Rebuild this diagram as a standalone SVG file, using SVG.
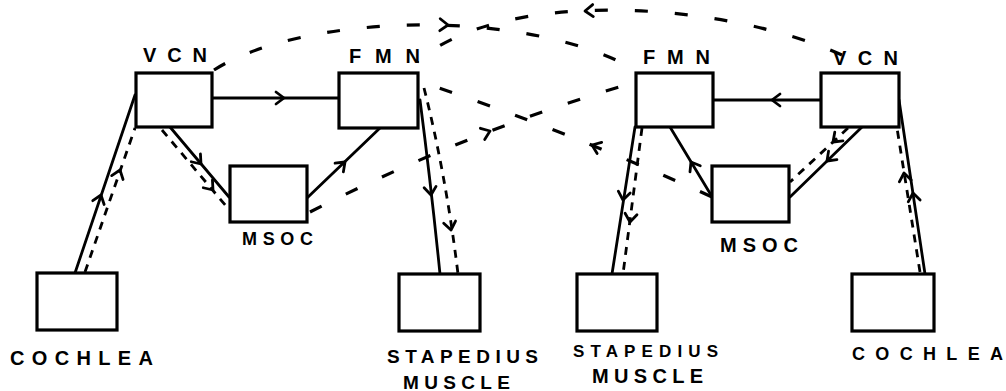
<svg xmlns="http://www.w3.org/2000/svg" xmlns:xlink="http://www.w3.org/1999/xlink" width="1006" height="391" viewBox="0 0 1006 391">
<style>
.box{fill:#fff;stroke:#000;stroke-width:3.2}
.lbl{font-family:"Liberation Sans",Arial,sans-serif;font-weight:bold;fill:#000}
.solid{fill:none;stroke:#000;stroke-width:2.8;stroke-linecap:round}
.dash{fill:none;stroke:#000;stroke-width:2.8;stroke-dasharray:8 7}
.dashl{fill:none;stroke:#000;stroke-width:3.2;stroke-dasharray:13 27}
.ah{fill:none;stroke:#000;stroke-width:2.8;stroke-linecap:round;stroke-linejoin:round;stroke-dasharray:none}
</style>
<defs>
<path id="ah" class="ah" d="M-8,-6 L0,0 L-8,6"/>
</defs>
<rect width="1006" height="391" fill="#fff"/>

<g id="connectors">
<!-- left side -->
<line class="solid" x1="75" y1="273" x2="135" y2="95"/>
<use xlink:href="#ah" transform="translate(101,195) rotate(-71.4)"/>
<line class="dash" x1="85" y1="272" x2="135" y2="128"/>
<use xlink:href="#ah" transform="translate(120,170) rotate(-70.9)"/>
<line class="solid" x1="213" y1="98" x2="339" y2="98"/>
<use xlink:href="#ah" transform="translate(284,98)"/>
<line class="solid" x1="170" y1="127" x2="229" y2="197"/>
<use xlink:href="#ah" transform="translate(201,164) rotate(49.9)"/>
<line class="dash" x1="162" y1="130" x2="226" y2="206"/>
<use xlink:href="#ah" transform="translate(213,190) rotate(49.9)"/>
<line class="solid" x1="307" y1="198" x2="380" y2="128"/>
<use xlink:href="#ah" transform="translate(345,162) rotate(-43.8)"/>
<path class="solid" d="M420,100 Q431,185 440,274"/>
<use xlink:href="#ah" transform="translate(431,195) rotate(83.4)"/>
<path class="dash" d="M424,88 Q446,175 458,274"/>
<use xlink:href="#ah" transform="translate(451,230) rotate(80)"/>
<!-- crossing lines -->
<path class="dashl" d="M310,212 Q470,130 636,82"/>
<use xlink:href="#ah" transform="translate(490,131) rotate(-21.1)"/>
<path class="dashl" d="M712,197 Q560,128 421,82"/>
<use xlink:href="#ah" transform="translate(592,145) rotate(-157.8)"/>
<path class="dashl" d="M214,70 C300,15 520,5 636,70"/>
<use xlink:href="#ah" transform="translate(448,25) rotate(2)"/>
<path class="dashl" d="M842,55 C720,0 500,-12 417,62"/>
<use xlink:href="#ah" transform="translate(585,11) rotate(177)"/>
<!-- right side -->
<line class="solid" x1="821" y1="100" x2="713" y2="100"/>
<use xlink:href="#ah" transform="translate(772,100) rotate(180)"/>
<line class="solid" x1="711" y1="195" x2="670" y2="127"/>
<use xlink:href="#ah" transform="translate(691,162) rotate(-121.1)"/>
<line class="solid" x1="862" y1="127" x2="790" y2="197"/>
<use xlink:href="#ah" transform="translate(827,161) rotate(135.8)"/>
<line class="dash" x1="848" y1="128" x2="790" y2="182"/>
<use xlink:href="#ah" transform="translate(833,142) rotate(137)"/>
<line class="solid" x1="635" y1="127" x2="612" y2="274"/>
<use xlink:href="#ah" transform="translate(623,200) rotate(98.9)"/>
<line class="dash" x1="642" y1="128" x2="623" y2="274"/>
<use xlink:href="#ah" transform="translate(630,222) rotate(97.4)"/>
<line class="solid" x1="925" y1="274" x2="899" y2="100"/>
<use xlink:href="#ah" transform="translate(913,193) rotate(-98.5)"/>
<line class="dash" x1="920" y1="272" x2="897" y2="128"/>
<use xlink:href="#ah" transform="translate(904,173) rotate(-99.1)"/>
</g>

<g id="vcn-left">
<rect class="box" x="136" y="73" width="76" height="54"/>
<text class="lbl" x="143" y="62" font-size="20" textLength="64" lengthAdjust="spacing">VCN</text>
</g>
<g id="fmn-left">
<rect class="box" x="339" y="73" width="79" height="55"/>
<text class="lbl" x="349" y="63" font-size="20" textLength="71" lengthAdjust="spacing">FMN</text>
</g>
<g id="msoc-left">
<rect class="box" x="230" y="166" width="77" height="56"/>
<text class="lbl" x="242" y="245" font-size="18" textLength="71" lengthAdjust="spacing">MSOC</text>
</g>
<g id="cochlea-left">
<rect class="box" x="37" y="273" width="80" height="57"/>
<text class="lbl" x="10" y="365" font-size="20" textLength="143" lengthAdjust="spacing">COCHLEA</text>
</g>
<g id="stapedius-left">
<rect class="box" x="399" y="274" width="81" height="57"/>
<text class="lbl" x="387" y="363" font-size="19" textLength="151" lengthAdjust="spacing">STAPEDIUS</text>
<text class="lbl" x="403" y="389" font-size="19" textLength="107" lengthAdjust="spacing">MUSCLE</text>
</g>
<g id="fmn-right">
<rect class="box" x="636" y="73" width="77" height="54"/>
<text class="lbl" x="643" y="64" font-size="20" textLength="67" lengthAdjust="spacing">FMN</text>
</g>
<g id="vcn-right">
<rect class="box" x="821" y="73" width="78" height="54"/>
<text class="lbl" x="833" y="65" font-size="20" textLength="65" lengthAdjust="spacing">VCN</text>
</g>
<g id="msoc-right">
<rect class="box" x="712" y="166" width="77" height="56"/>
<text class="lbl" x="720" y="252" font-size="20" textLength="78" lengthAdjust="spacing">MSOC</text>
</g>
<g id="stapedius-right">
<rect class="box" x="577" y="274" width="80" height="57"/>
<text class="lbl" x="573" y="357" font-size="17" textLength="145" lengthAdjust="spacing">STAPEDIUS</text>
<text class="lbl" x="592" y="383" font-size="20" textLength="111" lengthAdjust="spacing">MUSCLE</text>
</g>
<g id="cochlea-right">
<rect class="box" x="852" y="274" width="82" height="57"/>
<text class="lbl" x="852" y="360" font-size="18" textLength="151" lengthAdjust="spacing">COCHLEA</text>
</g>
</svg>
